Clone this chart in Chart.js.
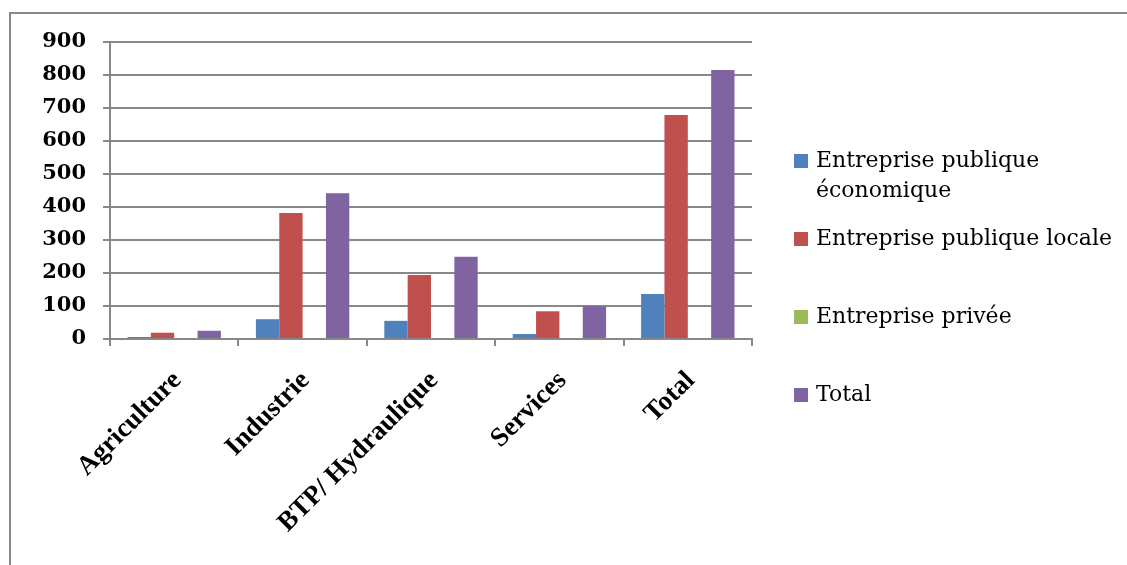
<!DOCTYPE html>
<html>
<head>
<meta charset="utf-8">
<script src="https://cdn.jsdelivr.net/npm/chart.js@4/dist/chart.umd.min.js"></script>
<style>
  html, body { margin: 0; padding: 0; background: #ffffff; }
  #wrap { position: relative; width: 1127px; height: 565px; }
  canvas { display: block; }
</style>
</head>
<body>
<div id="wrap"><canvas id="c" width="1127" height="565"></canvas></div>
<script>
// Categories (sectors) and the four series
const categories = ['Agriculture', 'Industrie', 'BTP/ Hydraulique', 'Services', 'Total'];
const seriesNames = ['Entreprise publique économique', 'Entreprise publique locale', 'Entreprise privée', 'Total'];
const publiqueEconomique = [6, 60, 55, 15, 136];
const publiqueLocale = [19, 382, 194, 84, 679];
const privee = [0, 0, 0, 0, 0];
const total = [25, 442, 249, 99, 815];
const yTicks = [0, 100, 200, 300, 400, 500, 600, 700, 800, 900];

const colors = ['#4F81BD', '#C0504D', '#9BBB59', '#8064A2'];
const gridColor = '#888888';

// Outer frame (top and left edges of the chart box)
const framePlugin = {
  id: 'frame',
  beforeDraw(chart) {
    const ctx = chart.ctx;
    ctx.save();
    ctx.strokeStyle = '#8a8a8a';
    ctx.lineWidth = 2;
    ctx.beginPath();
    ctx.moveTo(10, 565);
    ctx.lineTo(10, 13);
    ctx.lineTo(1127, 13);
    ctx.stroke();
    ctx.restore();
  }
};

// Legend on the right, with word wrapping
const sideLegend = {
  id: 'sideLegend',
  afterDraw(chart) {
    const ctx = chart.ctx;
    ctx.save();
    ctx.font = '22px "DejaVu Serif"';
    ctx.textBaseline = 'middle';
    ctx.fillStyle = '#000000';
    const x0 = 794, box = 14, tx = 816, maxW = 305, lineH = 30;
    chart.data.datasets.forEach((ds, i) => {
      const cy = 161 + i * 78;
      ctx.fillStyle = ds.backgroundColor;
      ctx.fillRect(x0, cy - box / 2, box, box);
      ctx.fillStyle = '#000000';
      const words = ds.label.split(' ');
      const lines = [];
      let cur = '';
      words.forEach(w => {
        const t = cur ? cur + ' ' + w : w;
        if (ctx.measureText(t).width > maxW && cur) { lines.push(cur); cur = w; }
        else cur = t;
      });
      lines.push(cur);
      lines.forEach((ln, k) => ctx.fillText(ln, tx, cy + k * lineH));
    });
    ctx.restore();
  }
};

const dataSets = [publiqueEconomique, publiqueLocale, privee, total].map((vals, i) => ({
  label: seriesNames[i],
  data: vals,
  backgroundColor: colors[i],
  borderWidth: 0,
  categoryPercentage: 4 / 5.5,
  barPercentage: 1.0
}));

new Chart(document.getElementById('c'), {
  type: 'bar',
  data: { labels: categories, datasets: dataSets },
  options: {
    responsive: false,
    animation: false,
    devicePixelRatio: 1,
    layout: { padding: { left: 20, top: 42, right: 375, bottom: 0 } },
    plugins: { legend: { display: false }, tooltip: { enabled: false } },
    scales: {
      x: {
        grid: { offset: true, drawOnChartArea: false, drawTicks: true, tickLength: 7, color: gridColor, lineWidth: 2 },
        border: { color: gridColor, width: 2 },
        ticks: {
          color: '#000000',
          font: { family: '"Liberation Serif"', weight: 'bold', size: 27 },
          minRotation: 45, maxRotation: 45,
          padding: 19,
          labelOffset: 3
        },
        afterFit(scale) { scale.height = 565 - 339; }
      },
      y: {
        min: 0, max: 900,
        afterBuildTicks(scale) { scale.ticks = yTicks.map(v => ({ value: v })); },
        grid: { color: gridColor, lineWidth: 2, tickLength: 7 },
        border: { color: gridColor, width: 2 },
        ticks: {
          color: '#000000',
          font: { family: '"DejaVu Serif"', weight: 'bold', size: 21 },
          padding: 17
        },
        afterFit(scale) { scale.width = 90; }
      }
    }
  },
  plugins: [framePlugin, sideLegend]
});
</script>
</body>
</html>
